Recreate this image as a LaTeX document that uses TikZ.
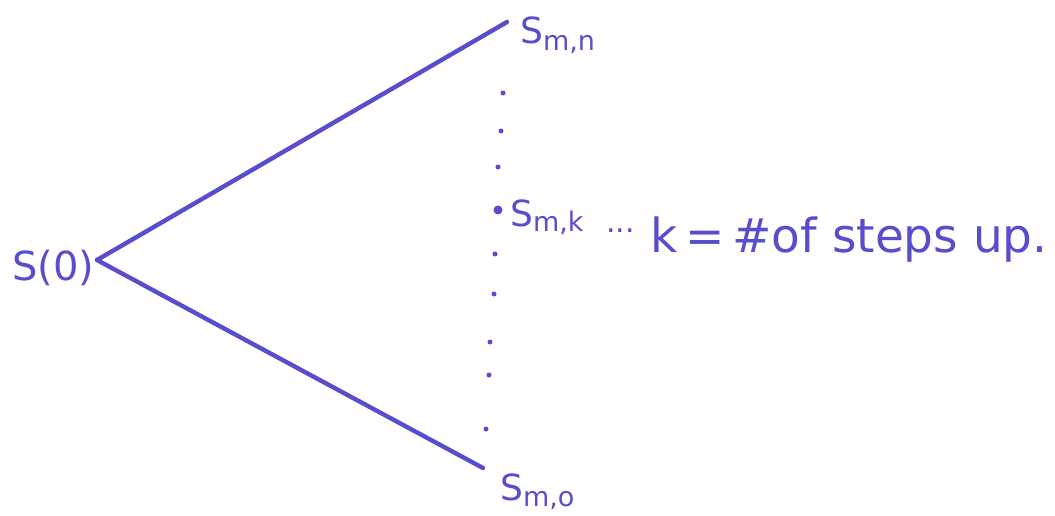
\documentclass[tikz,border=0pt]{standalone}
\usepackage{fontspec}
\setmainfont{DejaVu Sans}
\definecolor{ink}{RGB}{88,78,205}
\begin{document}
\begin{tikzpicture}[x=1pt,y=-1pt,
  branch/.style={ink,line width=4.4pt,line cap=round},
  smalldot/.style={circle,fill=ink,inner sep=0pt,minimum size=5pt},
  bigdot/.style={circle,fill=ink,inner sep=0pt,minimum size=9pt},
  lbl/.style={ink,inner sep=0pt,anchor=base west}]
\useasboundingbox (0,0) rectangle (1055,516);
\coordinate (A) at (97,260);
\coordinate (T) at (507,22);
\coordinate (B) at (483,468);
\draw[branch] (A) -- (T);
\draw[branch] (A) -- (B);
% labels
\node[lbl,font=\fontsize{40}{44}\selectfont] (s0) at (12,280) {S(0)};
\node[lbl,font=\fontsize{36}{40}\selectfont] (smn) at (520,44) {S\raisebox{-0.35ex}{\fontsize{27}{30}\selectfont m,n}};
\node[lbl,font=\fontsize{36}{40}\selectfont] (smk) at (510,226) {S\raisebox{-0.3ex}{\fontsize{27}{30}\selectfont m,k}};
\node[lbl,font=\fontsize{30}{34}\selectfont] (dots) at (606,232) {...};
\node[lbl,font=\fontsize{47}{50}\selectfont] (note) at (650,252) {k\,=\,\#of steps up.};
\node[lbl,font=\fontsize{36}{40}\selectfont] (sm0) at (500,500) {S\raisebox{-0.35ex}{\fontsize{27}{30}\selectfont m,o}};
% vertical dots
\node[smalldot] (d1) at (503,93) {};
\node[smalldot] (d2) at (501,131) {};
\node[smalldot] (d3) at (498,167) {};
\node[bigdot] (d4) at (498,210) {};
\node[smalldot] (d5) at (495,254) {};
\node[smalldot] (d6) at (494,294) {};
\node[smalldot] (d7) at (490,342) {};
\node[smalldot] (d8) at (489,375) {};
\node[smalldot] (d9) at (486,429) {};
\end{tikzpicture}
\end{document}
